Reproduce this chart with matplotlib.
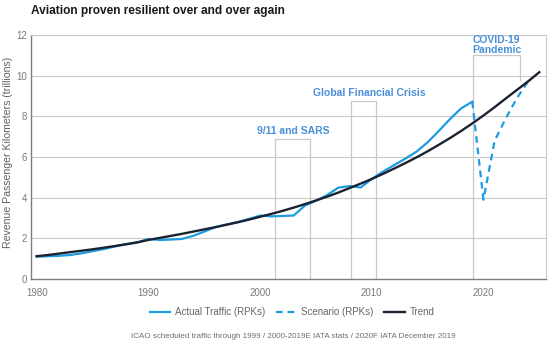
import matplotlib
matplotlib.use("Agg")
import matplotlib.pyplot as plt

plt.rcParams['font.family'] = ['Liberation Sans', 'DejaVu Sans']

# RPKs in trillions
actual_years = list(range(1980, 2020))
actual_rpk = [1.10, 1.12, 1.14, 1.18, 1.26, 1.37, 1.47, 1.60, 1.71, 1.80,
              1.97, 1.92, 1.94, 1.97, 2.12, 2.33, 2.55, 2.68, 2.80, 2.95,
              3.12, 3.08, 3.10, 3.12, 3.60, 3.85, 4.13, 4.49, 4.57, 4.50,
              4.92, 5.28, 5.60, 5.92, 6.26, 6.72, 7.28, 7.86, 8.39, 8.72]

scenario_years = [2019, 2020, 2021, 2022, 2023, 2024]
scenario_rpk = [8.72, 3.90, 6.80, 7.90, 8.90, 9.72]

trend_years = list(range(1980, 2026))
trend_rpk = [1.12, 1.18, 1.25, 1.32, 1.39, 1.46, 1.54, 1.62, 1.71, 1.80,
             1.92, 2.02, 2.12, 2.22, 2.33, 2.44, 2.55, 2.67, 2.79, 2.92,
             3.06, 3.20, 3.35, 3.51, 3.68, 3.86, 4.05, 4.25, 4.47, 4.69,
             4.92, 5.17, 5.43, 5.70, 5.98, 6.28, 6.60, 6.93, 7.28, 7.65,
             8.04, 8.45, 8.88, 9.30, 9.72, 10.17]

# crisis brackets: (label, left, right, top, right side bottom, text x, text y)
events = [
    ("9/11 and SARS", 2001.36, 2004.5, 6.89, 0, 2002.95, 7.28),
    ("Global Financial Crisis", 2008.17, 2010.4, 8.77, 0, 2009.8, 9.15),
    ("COVID-19\nPandemic", 2019.1, 2023.3, 11.0, 9.8, 2021.17, 11.53),
]

blue = '#1d9be0'
navy = '#1b2232'
note_blue = '#4a8fd8'
grid_gray = '#c9c9c9'
text_gray = '#7a7a7a'

fig = plt.figure(figsize=(5.5, 3.42), dpi=100)
ax = fig.add_axes([31 / 550, 63 / 342, 515 / 550, 244 / 342])

ax.set_xlim(1979.49, 2025.6)
ax.set_ylim(0, 12)
ax.set_yticks([0, 2, 4, 6, 8, 10, 12])
ax.set_xticks([1980, 1990, 2000, 2010, 2020])
ax.grid(axis='y', color=grid_gray, linewidth=0.8)
ax.set_axisbelow(True)

for side in ['top', 'right']:
    ax.spines[side].set_color(grid_gray)
    ax.spines[side].set_linewidth(0.8)
for side in ['left', 'bottom']:
    ax.spines[side].set_color('#7d7d7d')
    ax.spines[side].set_linewidth(1.0)

ax.tick_params(length=0, labelsize=7, colors=text_gray)
ax.tick_params(axis='x', pad=6.5)
ax.tick_params(axis='y', pad=3)

for label, x0, x1, top, rbot, tx, ty in events:
    ax.plot([x0, x0, x1, x1], [0, top, top, rbot], color=grid_gray,
            linewidth=0.9, zorder=1)
    ax.text(tx, ty, label, ha='center', va='center', fontsize=7.5,
            fontweight='bold', color=note_blue, linespacing=1.0)

ax.plot(actual_years, actual_rpk, color=blue, linewidth=1.6,
        label='Actual Traffic (RPKs)', zorder=3)
ax.plot(scenario_years, scenario_rpk, color=blue, linewidth=1.6,
        dashes=(3, 2.2), label='Scenario (RPKs)', zorder=3)
ax.plot(trend_years, trend_rpk, color=navy, linewidth=1.7,
        label='Trend', zorder=4)

fig.text(8.5 / 550, 1 - 152 / 342, 'Revenue Passenger Kilometers (trillions)',
         rotation=90, ha='center', va='center', fontsize=7.6, color='#606060')

fig.text(31 / 550, 1 - 11 / 342, 'Aviation proven resilient over and over again',
         ha='left', va='center', fontsize=8.6, fontweight='bold', color='#1a1a1a')

fig.legend(loc='center', bbox_to_anchor=(292 / 550, 1 - 312 / 342), ncol=3,
           frameon=False, fontsize=7, handlelength=2.1, handletextpad=0.5,
           columnspacing=1.1, labelcolor='#666666')

fig.text(293 / 550, 1 - 336.5 / 342,
         'ICAO scheduled traffic through 1999 / 2000-2019E IATA stats / 2020F IATA December 2019',
         ha='center', va='center', fontsize=5.8, color='#6e6e6e')

fig.savefig('out.png', dpi=100)
